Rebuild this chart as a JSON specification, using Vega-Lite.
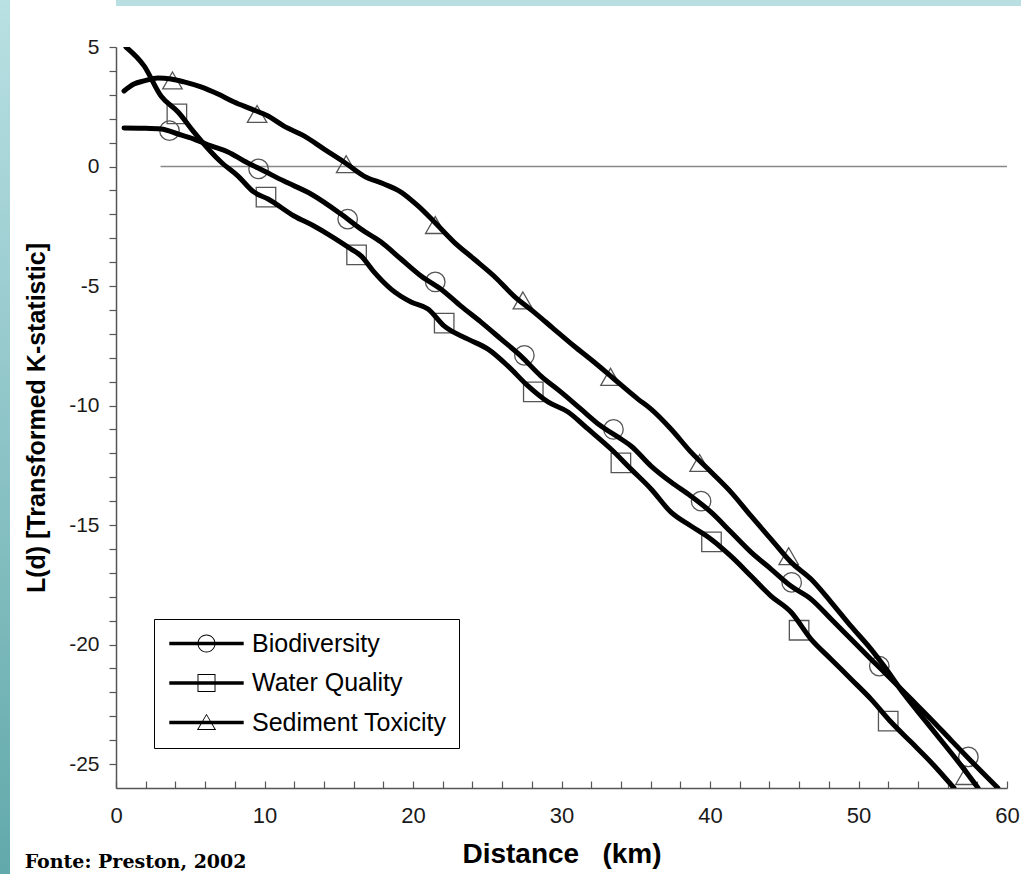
{
  "$schema": "https://vega.github.io/schema/vega-lite/v6.json",
  "padding": 0,
  "background": "white",
  "config": {"font": "Liberation Sans", "view": {"stroke": null}},
  "datasets": {
    "curves": [
      {"series": "Water Quality", "x": 0.67, "y": 5.0}, {"series": "Water Quality", "x": 1.89, "y": 4.21}, {"series": "Water Quality", "x": 3.03, "y": 2.95}, {"series": "Water Quality", "x": 4.18, "y": 2.28}, {"series": "Water Quality", "x": 5.25, "y": 1.44}, {"series": "Water Quality", "x": 6.4, "y": 0.61}, {"series": "Water Quality", "x": 7.07, "y": 0.19}, {"series": "Water Quality", "x": 8.22, "y": -0.4}, {"series": "Water Quality", "x": 9.29, "y": -1.07}, {"series": "Water Quality", "x": 10.24, "y": -1.36}, {"series": "Water Quality", "x": 11.99, "y": -2.07}, {"series": "Water Quality", "x": 13.33, "y": -2.49}, {"series": "Water Quality", "x": 14.48, "y": -2.91}, {"series": "Water Quality", "x": 15.82, "y": -3.45}, {"series": "Water Quality", "x": 16.5, "y": -3.74}, {"series": "Water Quality", "x": 17.37, "y": -4.41}, {"series": "Water Quality", "x": 18.52, "y": -5.13}, {"series": "Water Quality", "x": 19.87, "y": -5.67}, {"series": "Water Quality", "x": 21.01, "y": -5.96}, {"series": "Water Quality", "x": 22.09, "y": -6.67}, {"series": "Water Quality", "x": 23.7, "y": -7.22}, {"series": "Water Quality", "x": 25.05, "y": -7.64}, {"series": "Water Quality", "x": 26.4, "y": -8.35}, {"series": "Water Quality", "x": 27.74, "y": -9.18}, {"series": "Water Quality", "x": 29.09, "y": -9.85}, {"series": "Water Quality", "x": 30.44, "y": -10.27}, {"series": "Water Quality", "x": 31.78, "y": -10.98}, {"series": "Water Quality", "x": 33.33, "y": -11.82}, {"series": "Water Quality", "x": 34.68, "y": -12.66}, {"series": "Water Quality", "x": 36.03, "y": -13.49}, {"series": "Water Quality", "x": 37.37, "y": -14.46}, {"series": "Water Quality", "x": 38.72, "y": -15.04}, {"series": "Water Quality", "x": 40.07, "y": -15.59}, {"series": "Water Quality", "x": 41.41, "y": -16.3}, {"series": "Water Quality", "x": 42.76, "y": -17.13}, {"series": "Water Quality", "x": 44.11, "y": -17.97}, {"series": "Water Quality", "x": 45.45, "y": -18.64}, {"series": "Water Quality", "x": 46.8, "y": -19.77}, {"series": "Water Quality", "x": 48.15, "y": -20.61}, {"series": "Water Quality", "x": 49.49, "y": -21.44}, {"series": "Water Quality", "x": 50.84, "y": -22.28}, {"series": "Water Quality", "x": 52.19, "y": -23.24}, {"series": "Water Quality", "x": 53.54, "y": -24.08}, {"series": "Water Quality", "x": 54.88, "y": -24.92}, {"series": "Water Quality", "x": 56.43, "y": -26.0},
      {"series": "Biodiversity", "x": 0.54, "y": 1.61}, {"series": "Biodiversity", "x": 1.8, "y": 1.6}, {"series": "Biodiversity", "x": 3.03, "y": 1.57}, {"series": "Biodiversity", "x": 4.18, "y": 1.36}, {"series": "Biodiversity", "x": 5.25, "y": 1.15}, {"series": "Biodiversity", "x": 6.4, "y": 0.86}, {"series": "Biodiversity", "x": 7.54, "y": 0.61}, {"series": "Biodiversity", "x": 8.62, "y": 0.23}, {"series": "Biodiversity", "x": 9.97, "y": -0.19}, {"series": "Biodiversity", "x": 11.31, "y": -0.61}, {"series": "Biodiversity", "x": 13.13, "y": -1.15}, {"series": "Biodiversity", "x": 15.15, "y": -1.99}, {"series": "Biodiversity", "x": 16.5, "y": -2.62}, {"series": "Biodiversity", "x": 17.85, "y": -3.16}, {"series": "Biodiversity", "x": 19.19, "y": -3.87}, {"series": "Biodiversity", "x": 20.54, "y": -4.58}, {"series": "Biodiversity", "x": 21.89, "y": -5.13}, {"series": "Biodiversity", "x": 23.23, "y": -5.84}, {"series": "Biodiversity", "x": 24.58, "y": -6.51}, {"series": "Biodiversity", "x": 25.93, "y": -7.22}, {"series": "Biodiversity", "x": 27.27, "y": -7.93}, {"series": "Biodiversity", "x": 28.62, "y": -8.77}, {"series": "Biodiversity", "x": 29.97, "y": -9.44}, {"series": "Biodiversity", "x": 31.31, "y": -10.15}, {"series": "Biodiversity", "x": 32.66, "y": -10.86}, {"series": "Biodiversity", "x": 34.01, "y": -11.4}, {"series": "Biodiversity", "x": 34.68, "y": -11.69}, {"series": "Biodiversity", "x": 36.03, "y": -12.53}, {"series": "Biodiversity", "x": 37.37, "y": -13.2}, {"series": "Biodiversity", "x": 38.72, "y": -13.79}, {"series": "Biodiversity", "x": 40.07, "y": -14.46}, {"series": "Biodiversity", "x": 41.41, "y": -15.29}, {"series": "Biodiversity", "x": 42.76, "y": -16.13}, {"series": "Biodiversity", "x": 44.11, "y": -16.84}, {"series": "Biodiversity", "x": 45.45, "y": -17.55}, {"series": "Biodiversity", "x": 46.8, "y": -18.1}, {"series": "Biodiversity", "x": 48.15, "y": -18.93}, {"series": "Biodiversity", "x": 49.49, "y": -19.77}, {"series": "Biodiversity", "x": 50.84, "y": -20.61}, {"series": "Biodiversity", "x": 52.19, "y": -21.44}, {"series": "Biodiversity", "x": 53.54, "y": -22.28}, {"series": "Biodiversity", "x": 54.88, "y": -23.12}, {"series": "Biodiversity", "x": 56.23, "y": -24.0}, {"series": "Biodiversity", "x": 57.58, "y": -24.87}, {"series": "Biodiversity", "x": 59.39, "y": -26.0},
      {"series": "Sediment Toxicity", "x": 0.54, "y": 3.16}, {"series": "Sediment Toxicity", "x": 1.21, "y": 3.45}, {"series": "Sediment Toxicity", "x": 1.89, "y": 3.58}, {"series": "Sediment Toxicity", "x": 2.83, "y": 3.7}, {"series": "Sediment Toxicity", "x": 3.7, "y": 3.66}, {"series": "Sediment Toxicity", "x": 4.58, "y": 3.54}, {"series": "Sediment Toxicity", "x": 5.72, "y": 3.33}, {"series": "Sediment Toxicity", "x": 6.87, "y": 3.03}, {"series": "Sediment Toxicity", "x": 7.95, "y": 2.7}, {"series": "Sediment Toxicity", "x": 9.09, "y": 2.41}, {"series": "Sediment Toxicity", "x": 10.24, "y": 2.11}, {"series": "Sediment Toxicity", "x": 11.31, "y": 1.69}, {"series": "Sediment Toxicity", "x": 12.66, "y": 1.28}, {"series": "Sediment Toxicity", "x": 14.01, "y": 0.73}, {"series": "Sediment Toxicity", "x": 15.35, "y": 0.19}, {"series": "Sediment Toxicity", "x": 16.7, "y": -0.4}, {"series": "Sediment Toxicity", "x": 18.05, "y": -0.73}, {"series": "Sediment Toxicity", "x": 19.19, "y": -1.07}, {"series": "Sediment Toxicity", "x": 20.34, "y": -1.65}, {"series": "Sediment Toxicity", "x": 21.41, "y": -2.3}, {"series": "Sediment Toxicity", "x": 22.76, "y": -3.16}, {"series": "Sediment Toxicity", "x": 24.11, "y": -3.87}, {"series": "Sediment Toxicity", "x": 25.45, "y": -4.58}, {"series": "Sediment Toxicity", "x": 26.8, "y": -5.42}, {"series": "Sediment Toxicity", "x": 28.15, "y": -6.09}, {"series": "Sediment Toxicity", "x": 29.49, "y": -6.8}, {"series": "Sediment Toxicity", "x": 30.84, "y": -7.51}, {"series": "Sediment Toxicity", "x": 32.19, "y": -8.18}, {"series": "Sediment Toxicity", "x": 33.54, "y": -8.89}, {"series": "Sediment Toxicity", "x": 35.15, "y": -9.73}, {"series": "Sediment Toxicity", "x": 36.03, "y": -10.15}, {"series": "Sediment Toxicity", "x": 37.37, "y": -10.98}, {"series": "Sediment Toxicity", "x": 38.72, "y": -11.95}, {"series": "Sediment Toxicity", "x": 40.07, "y": -12.78}, {"series": "Sediment Toxicity", "x": 41.41, "y": -13.62}, {"series": "Sediment Toxicity", "x": 42.76, "y": -14.62}, {"series": "Sediment Toxicity", "x": 44.11, "y": -15.59}, {"series": "Sediment Toxicity", "x": 45.45, "y": -16.55}, {"series": "Sediment Toxicity", "x": 46.8, "y": -17.26}, {"series": "Sediment Toxicity", "x": 48.15, "y": -18.22}, {"series": "Sediment Toxicity", "x": 49.49, "y": -19.23}, {"series": "Sediment Toxicity", "x": 50.84, "y": -20.19}, {"series": "Sediment Toxicity", "x": 51.72, "y": -20.9}, {"series": "Sediment Toxicity", "x": 53.06, "y": -22.07}, {"series": "Sediment Toxicity", "x": 54.41, "y": -23.12}, {"series": "Sediment Toxicity", "x": 55.76, "y": -24.16}, {"series": "Sediment Toxicity", "x": 57.1, "y": -25.21}, {"series": "Sediment Toxicity", "x": 58.05, "y": -26.0}
    ],
    "markers": [
      {"series": "Biodiversity", "x": 3.6, "y": 1.5}, {"series": "Biodiversity", "x": 9.6, "y": -0.1}, {"series": "Biodiversity", "x": 15.6, "y": -2.2}, {"series": "Biodiversity", "x": 21.5, "y": -4.83}, {"series": "Biodiversity", "x": 27.5, "y": -7.9}, {"series": "Biodiversity", "x": 33.5, "y": -11.0}, {"series": "Biodiversity", "x": 39.4, "y": -14.0}, {"series": "Biodiversity", "x": 45.5, "y": -17.4}, {"series": "Biodiversity", "x": 51.4, "y": -20.9}, {"series": "Biodiversity", "x": 57.4, "y": -24.7},
      {"series": "Water Quality", "x": 4.1, "y": 2.2}, {"series": "Water Quality", "x": 10.1, "y": -1.28}, {"series": "Water Quality", "x": 16.2, "y": -3.7}, {"series": "Water Quality", "x": 22.1, "y": -6.55}, {"series": "Water Quality", "x": 28.1, "y": -9.43}, {"series": "Water Quality", "x": 34.0, "y": -12.4}, {"series": "Water Quality", "x": 40.1, "y": -15.7}, {"series": "Water Quality", "x": 46.0, "y": -19.4}, {"series": "Water Quality", "x": 52.0, "y": -23.2},
      {"series": "Sediment Toxicity", "x": 3.8, "y": 3.6}, {"series": "Sediment Toxicity", "x": 9.5, "y": 2.2}, {"series": "Sediment Toxicity", "x": 15.5, "y": 0.1}, {"series": "Sediment Toxicity", "x": 21.5, "y": -2.45}, {"series": "Sediment Toxicity", "x": 27.4, "y": -5.6}, {"series": "Sediment Toxicity", "x": 33.3, "y": -8.8}, {"series": "Sediment Toxicity", "x": 39.3, "y": -12.4}, {"series": "Sediment Toxicity", "x": 45.3, "y": -16.3}, {"series": "Sediment Toxicity", "x": 57.2, "y": -25.5}
    ],
    "zero": [{"x": 3, "x2": 60, "y": 0}]
  },
  "spacing": 14,
  "hconcat": [
    {
      "width": 10, "height": 874,
      "data": {"values": [{}]},
      "mark": {"type": "rect", "color": {"gradient": "linear", "x1": 0, "y1": 0, "x2": 0, "y2": 1, "stops": [{"offset": 0, "color": "#b9e0e3"}, {"offset": 1, "color": "#62a9ab"}]}},
      "encoding": {}
    },
    {
      "spacing": 30,
      "columns": 1,
      "align": "none",
      "concat": [
        {
          "width": 905, "height": 6,
          "data": {"values": [{}]},
          "mark": {"type": "rect", "color": "#b9dfe2"},
          "encoding": {}
        },
        {
          "width": 891, "height": 741,
          "title": {"text": "Fonte: Preston, 2002", "orient": "bottom", "anchor": "start", "frame": "bounds", "font": "DejaVu Serif", "fontSize": 19, "fontWeight": "bold", "color": "black", "offset": -15},
          "resolve": {"scale": {"shape": "independent"}},
          "encoding": {
            "x": {"field": "x", "type": "quantitative", "scale": {"domain": [0, 60], "nice": false, "zero": false},
              "axis": {"title": "Distance\u00a0\u00a0\u00a0(km)", "values": [0,2,4,6,8,10,12,14,16,18,20,22,24,26,28,30,32,34,36,38,40,42,44,46,48,50,52,54,56,58,60],
                "labelExpr": "datum.value % 10 === 0 ? '' + datum.value : ''", "tickSize": -7, "labelPadding": 24, "labelFontSize": 22, "labelColor": "#1a1a1a",
                "labelFlush": false, "labelOverlap": false, "labelBound": false, "titleFontSize": 28, "titleFontWeight": "bold", "titleColor": "black", "titlePadding": 14,
                "grid": false, "domainColor": "#555", "domainWidth": 1.5, "tickColor": "#555", "tickWidth": 1.2}},
            "y": {"field": "y", "type": "quantitative", "scale": {"domain": [-26, 5], "nice": false, "zero": false},
              "axis": {"title": "L(d) [Transformed K-statistic]", "values": [-25,-24,-23,-22,-21,-20,-19,-18,-17,-16,-15,-14,-13,-12,-11,-10,-9,-8,-7,-6,-5,-4,-3,-2,-1,0,1,2,3,4,5],
                "labelExpr": "datum.value % 5 === 0 ? '' + datum.value : ''", "tickSize": 7, "labelPadding": 10, "labelFontSize": 21, "labelColor": "#1a1a1a",
                "labelOverlap": false, "labelBound": false, "titleFontSize": 25, "titleFontWeight": "bold", "titleColor": "black", "titlePadding": 19,
                "grid": false, "domainColor": "#555", "domainWidth": 1.5, "tickColor": "#555", "tickWidth": 1.2}}
          },
          "layer": [
            {
              "data": {"name": "zero"},
              "mark": {"type": "rule", "color": "#888", "strokeWidth": 1.3},
              "encoding": {"x2": {"field": "x2"}}
            },
            {
              "data": {"name": "markers"},
              "mark": {"type": "point", "filled": false, "size": 380, "strokeWidth": 1.3, "color": "#555", "opacity": 1},
              "encoding": {
                "shape": {"field": "series", "type": "nominal",
                  "scale": {"domain": ["Biodiversity", "Water Quality", "Sediment Toxicity"], "range": ["circle", "square", "triangle-up"]},
                  "legend": null}
              }
            },
            {
              "data": {"name": "markers"},
              "mark": {"type": "point", "filled": true, "size": 576, "color": "black", "opacity": 0},
              "encoding": {
                "shape": {"field": "series", "type": "nominal",
                  "scale": {"domain": ["Biodiversity", "Water Quality", "Sediment Toxicity"],
                    "range": [
                      "M-3.1,-0.15H3.1V0.15H-3.1Z M0.75,0A0.75,0.75 0 1,1 -0.75,0A0.75,0.75 0 1,1 0.75,0Z M0.67,0A0.67,0.67 0 1,0 -0.67,0A0.67,0.67 0 1,0 0.67,0Z",
                      "M-3.1,-0.15H3.1V0.15H-3.1Z M-0.75,-0.75H0.75V0.75H-0.75Z M-0.67,-0.67V0.67H0.67V-0.67Z",
                      "M-3.1,-0.15H3.1V0.15H-3.1Z M0,-0.72L0.8,0.62H-0.8Z M0,-0.6L-0.66,0.54H0.66Z"
                    ]},
                  "legend": {"title": null, "orient": "none", "legendX": 38, "legendY": 572, "direction": "vertical",
                    "strokeColor": "black", "fillColor": "white", "padding": 12,
                    "labelFont": "Liberation Sans", "labelFontSize": 25, "labelColor": "black", "labelOffset": 33, "labelLimit": 400,
                    "symbolSize": 576, "symbolOffset": 28, "rowPadding": 13.5,
                    "symbolOpacity": 1, "symbolFillColor": "black", "symbolStrokeWidth": 0}
                }
              }
            },
            {
              "data": {"name": "curves"},
              "mark": {"type": "line", "color": "black", "strokeWidth": 5, "interpolate": "monotone", "strokeCap": "round", "clip": true},
              "encoding": {"detail": {"field": "series"}}
            }
          ]
        }
      ]
    }
  ]
}
